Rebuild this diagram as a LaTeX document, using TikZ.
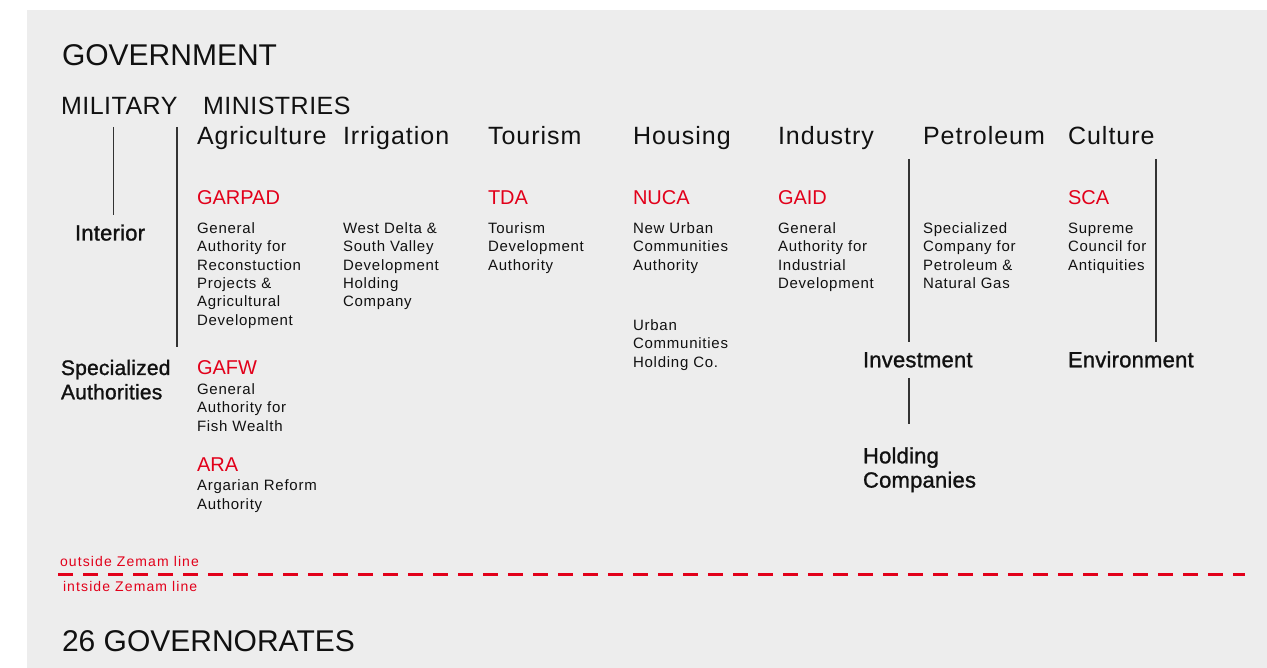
\documentclass[tikz,border=0pt]{standalone}
\usepackage{fontspec}
\setmainfont{Liberation Sans}
\newfontfamily\hdfont[LetterSpace=4]{Liberation Sans}
\newfontfamily\topfont[LetterSpace=2]{Liberation Sans}
\newfontfamily\bodyfont[LetterSpace=5]{Liberation Sans}
\newfontfamily\medfont[FakeBold=1.2,LetterSpace=1]{Liberation Sans}
\newfontfamily\zemfont[LetterSpace=8]{Liberation Sans}
\definecolor{bg}{HTML}{EDEDED}
\definecolor{ink}{HTML}{111111}
\definecolor{zred}{HTML}{E2001A}
\definecolor{rule}{HTML}{333333}
\newcommand\stk[2]{\vtop{\baselineskip=#1\relax\lineskiplimit=-100pt\halign{##\hfil\cr#2\crcr}}}
\tikzset{
  lbl/.style={anchor=base west, inner sep=0pt, outer sep=0pt, text=ink},
  title/.style={lbl, font=\fontsize{30}{36}\selectfont},
  top/.style={lbl, font=\fontsize{25}{30}\selectfont\topfont},
  head/.style={lbl, font=\fontsize{25}{30}\selectfont\hdfont},
  sub/.style={lbl, font=\fontsize{22}{24}\selectfont\medfont},
  code/.style={lbl, text=zred, font=\fontsize{20}{24}\selectfont},
  body/.style={lbl, font=\fontsize{15}{18}\selectfont\bodyfont},
  zem/.style={lbl, text=zred, font=\fontsize{14}{16}\selectfont\zemfont},
  link/.style={draw=rule, line width=1.4pt},
  zemline/.style={draw=zred, line width=3pt, dash pattern=on 15pt off 10pt}
}
\begin{document}
\begin{tikzpicture}[x=1pt,y=-1pt]
\useasboundingbox (0,0) rectangle (1267,668);
\fill[bg] (27,10) rectangle (1267,668);

% titles
\node[title] (gov) at (62,65.5) {GOVERNMENT};
\node[title] (gvn) at (62,651) {26 GOVERNORATES};
\node[top] (mil) at (61,115) {MILITARY};
\node[top] (min) at (203,115) {MINISTRIES};

% ministries
\node[head] (agr) at (197,145) {Agriculture};
\node[head] (irr) at (343,145) {Irrigation};
\node[head] (tou) at (488,145) {Tourism};
\node[head] (hou) at (633,145) {Housing};
\node[head] (ind) at (778,145) {Industry};
\node[head] (pet) at (923,145) {Petroleum};
\node[head] (cul) at (1068,145) {Culture};

% military side
\node[sub] (int) at (75,240.5) {Interior};
\node[sub, font=\fontsize{21}{24}\selectfont\medfont] (spa) at (61,375) {\stk{24.3pt}{Specialized\cr Authorities}};

% red codes
\node[code] (garpad) at (197,205) {GARPAD};
\node[code] (tda) at (488,205) {TDA};
\node[code] (nuca) at (633,205) {NUCA};
\node[code] (gaid) at (778,205) {GAID};
\node[code] (sca) at (1068,205) {SCA};
\node[code] (gafw) at (197,374.5) {GAFW};
\node[code] (ara) at (197,471) {ARA};

% body texts
\node[body] (garpadT) at (197,233.3) {\stk{18.4pt}{General\cr Authority for\cr Reconstuction\cr Projects \&\cr Agricultural\cr Development}};
\node[body] (wdT) at (343,233.3) {\stk{18.4pt}{West Delta \&\cr South Valley\cr Development\cr Holding\cr Company}};
\node[body] (tdaT) at (488,233.3) {\stk{18.4pt}{Tourism\cr Development\cr Authority}};
\node[body] (nucaT) at (633,233.3) {\stk{18.4pt}{New Urban\cr Communities\cr Authority}};
\node[body] (uchT) at (633,330.5) {\stk{18.4pt}{Urban\cr Communities\cr Holding Co.}};
\node[body] (gaidT) at (778,233.3) {\stk{18.4pt}{General\cr Authority for\cr Industrial\cr Development}};
\node[body] (spcT) at (923,233.3) {\stk{18.4pt}{Specialized\cr Company for\cr Petroleum \&\cr Natural Gas}};
\node[body] (scaT) at (1068,233.3) {\stk{18.4pt}{Supreme\cr Council for\cr Antiquities}};
\node[body] (gafwT) at (197,394.3) {\stk{18.4pt}{General\cr Authority for\cr Fish Wealth}};
\node[body] (araT) at (197,490.7) {\stk{18.4pt}{Argarian Reform\cr Authority}};

% lower right
\node[sub] (inv) at (863,367.3) {Investment};
\node[sub] (env) at (1068,367.3) {Environment};
\node[sub] (hold) at (863,463.3) {\stk{24.3pt}{Holding\cr Companies}};

% connectors
\coordinate (milA) at (113.5,127);
\coordinate (milB) at (113.5,215);
\coordinate (minA) at (177,127);
\coordinate (minB) at (177,347);
\coordinate (invA) at (909,159);
\coordinate (invB) at (909,342);
\coordinate (envA) at (1156,159);
\coordinate (envB) at (1156,342);
\coordinate (holA) at (909,378);
\coordinate (holB) at (909,424);
\draw[link] (milA) -- (milB);
\draw[link] (minA) -- (minB);
\draw[link] (invA) -- (invB);
\draw[link] (envA) -- (envB);
\draw[link] (holA) -- (holB);

% zemam line
\node[zem] (out) at (60,566.7) {outside Zemam line};
\node[zem] (ins) at (63,591.7) {intside Zemam line};
\coordinate (zA) at (58,574.5);
\coordinate (zB) at (1245,574.5);
\draw[zemline] (zA) -- (zB);
\end{tikzpicture}
\end{document}
